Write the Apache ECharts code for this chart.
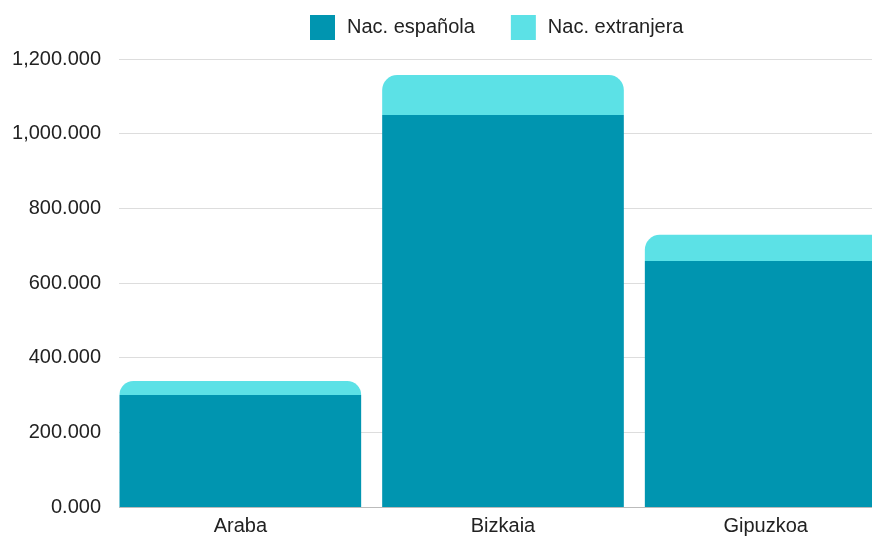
<!DOCTYPE html>
<html>
<head>
<meta charset="utf-8">
<script src="https://cdn.jsdelivr.net/npm/echarts@6/dist/echarts.min.js"></script>
<style>
html,body{margin:0;padding:0;background:#fff;overflow:hidden;}
#chart{width:897px;height:536px;}
</style>
</head>
<body>
<div id="chart"></div>
<script>
const categories = ['Araba', 'Bizkaia', 'Gipuzkoa'];
const seriesNames = ['Nac. española', 'Nac. extranjera'];
const espanola = [300000, 1050000, 659000];
const extranjera = [37500, 107000, 70000];
const yTicks = [0, 200000, 400000, 600000, 800000, 1000000, 1200000];
const yTickLabels = ['0.000', '200.000', '400.000', '600.000', '800.000', '1,000.000', '1,200.000'];

const FONT = 'Liberation Sans, Arial, sans-serif';
const chart = echarts.init(document.getElementById('chart'));
chart.setOption({
  animation: false,
  backgroundColor: '#ffffff',
  legend: {
    left: 305, top: 10,
    itemWidth: 25, itemHeight: 25, itemGap: 36,
    icon: 'rect',
    textStyle: { fontFamily: FONT, fontSize: 20, color: '#222', padding: [0, 0, 0, 7] },
    data: seriesNames
  },
  grid: { left: 109, right: 0, top: 59, bottom: 29, containLabel: false },
  xAxis: {
    type: 'category',
    data: categories,
    axisLine: { show: true, lineStyle: { color: '#bbbbbb', width: 1 } },
    axisTick: { show: false },
    axisLabel: { fontFamily: FONT, fontSize: 20, color: '#222', margin: 9 }
  },
  yAxis: {
    type: 'value',
    min: yTicks[0], max: yTicks[yTicks.length - 1], interval: yTicks[1] - yTicks[0],
    axisLine: { show: false },
    axisTick: { show: false },
    splitLine: { lineStyle: { color: '#dddddd', width: 1 } },
    axisLabel: {
      fontFamily: FONT, fontSize: 20, color: '#222', margin: 8,
      formatter: function (v) { return yTickLabels[yTicks.indexOf(v)]; }
    }
  },
  graphic: [{
    type: 'rect', z: 1, silent: true,
    shape: { x: 104, y: 50, width: 15, height: 470 },
    style: { fill: '#ffffff' }
  }],
  series: [
    {
      name: seriesNames[0], type: 'bar', stack: 'total',
      data: espanola, barCategoryGap: '8%',
      itemStyle: { color: '#0095b0' }
    },
    {
      name: seriesNames[1], type: 'bar', stack: 'total',
      data: extranjera, barCategoryGap: '8%',
      itemStyle: { color: '#5ce1e6', borderRadius: [15, 15, 0, 0] }
    }
  ]
});
</script>
</body>
</html>
